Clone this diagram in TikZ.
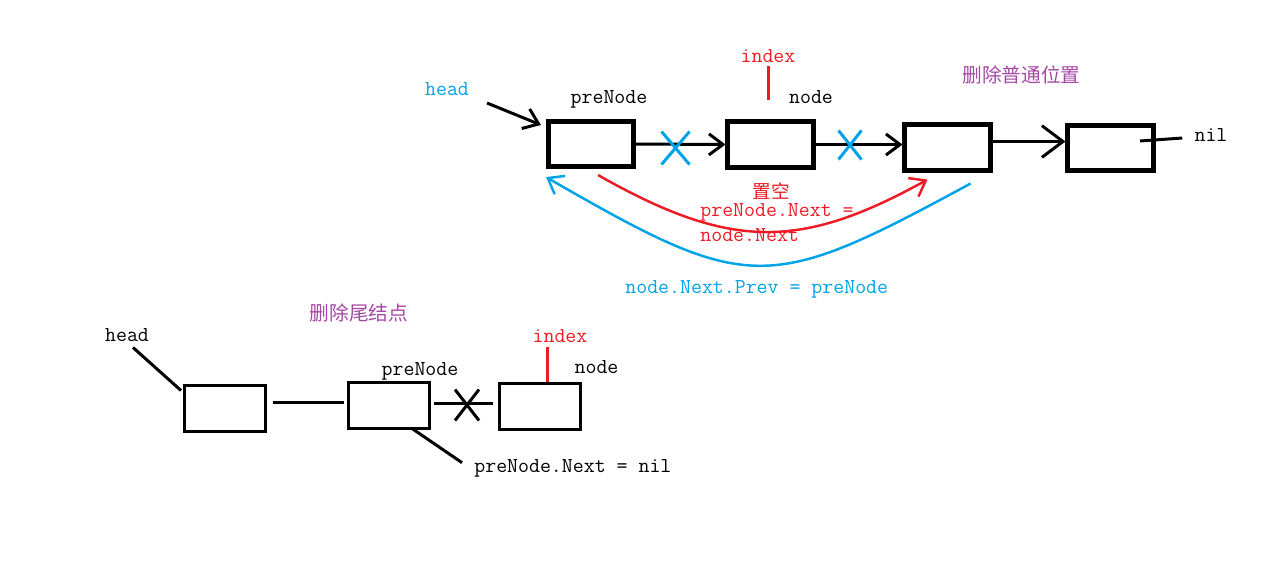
\documentclass[tikz,border=0pt]{standalone}
\usepackage{fontspec}
\newfontfamily\cjk{Noto Sans CJK SC}
\usetikzlibrary{arrows.meta,shapes.misc}
\definecolor{paintblue}{RGB}{0,162,232}
\definecolor{paintred}{RGB}{237,28,36}
\definecolor{paintpurple}{RGB}{163,73,164}

\begin{document}
\begin{tikzpicture}[x=0.02cm, y=-0.02cm,
  bigbox/.style={draw, line width=2.6pt, minimum width=1.71cm, minimum height=0.91cm, inner sep=0pt},
  smallbox/.style={draw, line width=1.7pt, minimum width=1.62cm, minimum height=0.92cm, inner sep=0pt},
  lbl/.style={font=\ttfamily\fontsize{12.1}{13}\selectfont, inner sep=0pt, anchor=base},
  title/.style={font=\cjk\fontsize{11.2}{13}\selectfont, text=paintpurple, inner sep=0pt},
  xmark/.style={cross out, draw, line width=1.7pt, inner sep=0pt},
  link/.style={line width=1.7pt},
  curve/.style={line width=1.4pt},
  >={Straight Barb[length=8pt, width=12pt]}]

\useasboundingbox (0,0) rectangle (1266,586);

\node[bigbox] (A) at (591,144) {};
\node[bigbox] (B) at (770.5,144.5) {};
\node[bigbox] (C) at (947.5,147.5) {};
\node[bigbox] (D) at (1110.5,148) {};

\node[lbl, text=paintblue] (head) at (447,95) {head};
\node[lbl] (pre) at (609,103) {preNode};
\node[lbl, text=paintred] (idx) at (768,62) {index};
\node[lbl] (nd) at (811,103) {node};
\node[lbl] (nil) at (1211,141) {nil};
\node[title] (t1) at (1021.5,74.5) {删除普通位置};
\node[title, text=paintred, font=\cjk\fontsize{10.6}{12}\selectfont] (empty) at (771.5,191.5) {置空};
\node[lbl, anchor=base west, text=paintred] (nextA) at (700,216) {preNode.Next =};
\node[lbl, anchor=base west, text=paintred] (nextB) at (700,241) {node.Next};
\node[lbl, anchor=base west, text=paintblue] (prev) at (625,293) {node.Next.Prev = preNode};

\coordinate (headtail) at (487,103);
\coordinate (idxfoot) at (768,100);
\coordinate (nilstub) at (1140,141);

\draw[link, ->] (headtail) -- ([shift={(-5,6)}]A.north west);
\draw[link, paintred, shorten <=0.08cm] (idx) -- (idxfoot);
\draw[link, ->] (A.east) -- (B.west);
\draw[link, ->] (B.east) -- (B.east -| C.west);
\draw[link, -{Straight Barb[length=12pt, width=18pt]}] ([shift={(0,-6)}]C.east) -- ([shift={(0,-6)}]C.east -| D.west);
\draw[link] (nilstub) -- ([shift={(-12,-3)}]nil.base west);
\node[xmark, draw=paintblue, minimum width=0.5cm, minimum height=0.6cm] (x1) at (675.5,148) {};
\node[xmark, draw=paintblue, minimum width=0.4cm, minimum height=0.52cm] (x2) at (850,145) {};

\draw[curve, paintred, ->] ([shift={(7,6)}]A.south) .. controls (730,250) and (800,250) .. ([shift={(25,7)}]C.south west);
\draw[curve, paintblue, ->] ([shift={(-22,11)}]C.south east) .. controls (767,294) and (749,294) .. ([shift={(0,8)}]A.south west);

\node[smallbox] (E) at (225,408) {};
\node[smallbox] (F) at (389,405) {};
\node[smallbox] (G) at (540,406) {};

\node[title] (t2) at (359,312.5) {删除尾结点};
\node[lbl] (head2) at (127,341) {head};
\node[lbl] (pre2) at (420,375) {preNode};
\node[lbl, text=paintred] (idx2) at (560,342) {index};
\node[lbl] (nd2) at (596.5,373) {node};
\node[lbl, anchor=base west] (nilnote) at (474,472) {preNode.Next = nil};

\coordinate (idx2top) at (547,347);

\draw[link] ([shift={(6,6)}]head2.south) -- ([shift={(-2,7)}]E.north west);
\draw[link] ([shift={(6,-6)}]E.east) -- ([shift={(-3,-3)}]F.west);
\draw[link] ([shift={(3,-2)}]F.east) -- ([shift={(-5,-3)}]G.west);
\draw[link, paintred] (idx2top) -- (idx2top |- G.north);
\draw[link] ([shift={(23,-1)}]F.south) -- ([shift={(-12,4)}]nilnote.north west);
\node[xmark, minimum width=0.42cm, minimum height=0.56cm] (x3) at (467,405) {};
\end{tikzpicture}
\end{document}
